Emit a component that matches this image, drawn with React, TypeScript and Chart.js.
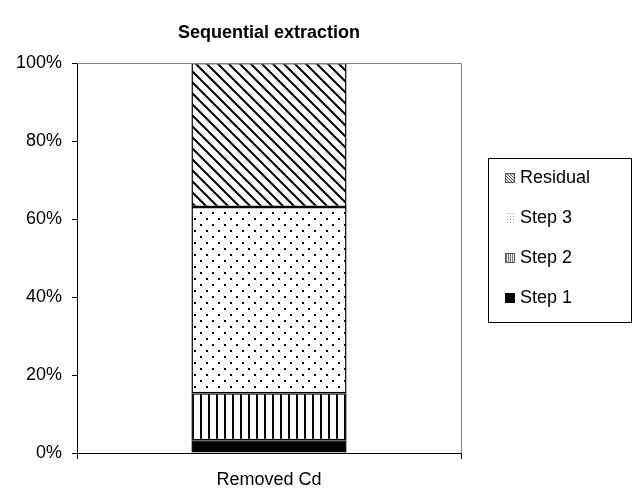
import React, { useEffect, useRef } from "react";
import { Chart, registerables } from "chart.js";

Chart.register(...registerables);

const categories = ["Removed Cd"];
const seriesNames = ["Step 1", "Step 2", "Step 3", "Residual"];
const step1 = [3.3];
const step2 = [12.0];
const step3 = [47.8];
const residual = [36.9];
const yTicks = [0, 20, 40, 60, 80, 100];
const title = "Sequential extraction";

const FONT = "'Liberation Sans', Arial, sans-serif";

function makePattern(kind: string): CanvasPattern | string {
  const c = document.createElement("canvas");
  const g = c.getContext("2d")!;
  if (kind === "diag") {
    const s = 11;
    c.width = s; c.height = s;
    g.fillStyle = "#fff"; g.fillRect(0, 0, s, s);
    g.strokeStyle = "#000"; g.lineWidth = 2;
    g.beginPath();
    g.moveTo(-1, -1); g.lineTo(s + 1, s + 1);
    g.moveTo(-1 - s, -1); g.lineTo(1, s + 1);
    g.moveTo(s - 1, -1); g.lineTo(2 * s + 1, s + 1);
    g.stroke();
  } else if (kind === "dots") {
    c.width = 12; c.height = 12;
    g.fillStyle = "#fff"; g.fillRect(0, 0, 12, 12);
    g.fillStyle = "#000";
    g.fillRect(2, 2, 2, 2);
    g.fillRect(8, 8, 2, 2);
  } else if (kind === "vert") {
    c.width = 8; c.height = 8;
    g.fillStyle = "#fff"; g.fillRect(0, 0, 8, 8);
    g.fillStyle = "#000"; g.fillRect(0, 0, 2, 8);
  } else {
    return "#000";
  }
  return g.createPattern(c, "repeat")!;
}

function makeSmallPattern(kind: string): CanvasPattern | string {
  const c = document.createElement("canvas");
  const g = c.getContext("2d")!;
  if (kind === "diag") {
    c.width = 3; c.height = 3;
    g.fillStyle = "#ddd"; g.fillRect(0, 0, 3, 3);
    g.fillStyle = "#666";
    g.fillRect(0, 0, 1, 1); g.fillRect(1, 1, 1, 1); g.fillRect(2, 2, 1, 1);
  } else if (kind === "dots") {
    c.width = 3; c.height = 3;
    g.fillStyle = "#fff"; g.fillRect(0, 0, 3, 3);
    g.fillStyle = "#999"; g.fillRect(0, 0, 1, 1);
  } else if (kind === "vert") {
    c.width = 2; c.height = 2;
    g.fillStyle = "#eee"; g.fillRect(0, 0, 2, 2);
    g.fillStyle = "#777"; g.fillRect(0, 0, 1, 2);
  } else {
    return "#000";
  }
  return g.createPattern(c, "repeat")!;
}

export default function App() {
  const ref = useRef<HTMLCanvasElement | null>(null);

  useEffect(() => {
    const canvas = ref.current!;
    const kinds = ["solid", "vert", "dots", "diag"];
    const values = [step1, step2, step3, residual];

    const extras = {
      id: "extras",
      afterDraw(chart: any) {
        const ctx = chart.ctx as CanvasRenderingContext2D;
        const a = chart.chartArea;
        ctx.save();
        ctx.strokeStyle = "#808080";
        ctx.lineWidth = 1;
        ctx.beginPath();
        ctx.moveTo(a.left, a.top + 0.5);
        ctx.lineTo(a.right + 0.5, a.top + 0.5);
        ctx.lineTo(a.right + 0.5, a.bottom);
        ctx.stroke();
        ctx.fillStyle = "#000";
        ctx.font = `bold 18px ${FONT}`;
        ctx.textAlign = "center";
        ctx.textBaseline = "middle";
        ctx.fillText(title, (a.left + a.right) / 2, 33);
        ctx.strokeStyle = "#000";
        ctx.strokeRect(488.5, 158.5, 143, 164);
        ctx.font = `18px ${FONT}`;
        ctx.textAlign = "left";
        const order = [3, 2, 1, 0];
        order.forEach((di, i) => {
          const cy = 177 + i * 40;
          ctx.fillStyle = makeSmallPattern(kinds[di]) as any;
          ctx.fillRect(505, cy - 4, 10, 10);
          if (kinds[di] !== "dots") {
            ctx.strokeStyle = di === 0 ? "#000" : "#555";
            ctx.strokeRect(505.5, cy - 3.5, 9, 9);
          }
          ctx.fillStyle = "#000";
          ctx.fillText(seriesNames[di], 520, cy + 1);
        });
        ctx.restore();
      },
    };

    const chart = new Chart(canvas, {
      type: "bar",
      data: {
        labels: categories,
        datasets: seriesNames.map((name, i) => ({
          label: name,
          data: values[i],
          backgroundColor: makePattern(kinds[i]) as any,
          borderColor: "#000",
          borderWidth: 1.5,
          borderSkipped: false,
          categoryPercentage: 1,
          barPercentage: 0.404,
        })),
      },
      options: {
        responsive: false,
        animation: false,
        devicePixelRatio: 1,
        layout: { padding: { top: 63, right: 174, left: 0, bottom: 0 } },
        plugins: {
          legend: { display: false },
          title: { display: false },
          tooltip: { enabled: false },
        },
        scales: {
          x: {
            stacked: true,
            offset: true,
            afterFit: (s: any) => { s.height = 38; },
            grid: {
              offset: true,
              drawOnChartArea: false,
              tickLength: 6,
              color: "#000",
            },
            border: { color: "#000", width: 1 },
            ticks: { color: "#000", font: { family: FONT, size: 18 }, padding: 10 },
          },
          y: {
            stacked: true,
            min: 0,
            max: 100,
            afterFit: (s: any) => { s.width = 77; },
            afterBuildTicks: (s: any) => { s.ticks = yTicks.map((v) => ({ value: v })); },
            grid: {
              drawOnChartArea: false,
              tickLength: 5,
              color: "#000",
            },
            border: { color: "#000", width: 1 },
            ticks: {
              color: "#000",
              font: { family: FONT, size: 18 },
              padding: 10,
              callback: (v: any) => `${v}%`,
            },
          },
        },
      },
      plugins: [extras],
    });
    return () => chart.destroy();
  }, []);

  return (
    <div style={{ position: "absolute", left: 0, top: 0, width: 635, height: 491, background: "#fff" }}>
      <canvas ref={ref} width={635} height={491} />
    </div>
  );
}
